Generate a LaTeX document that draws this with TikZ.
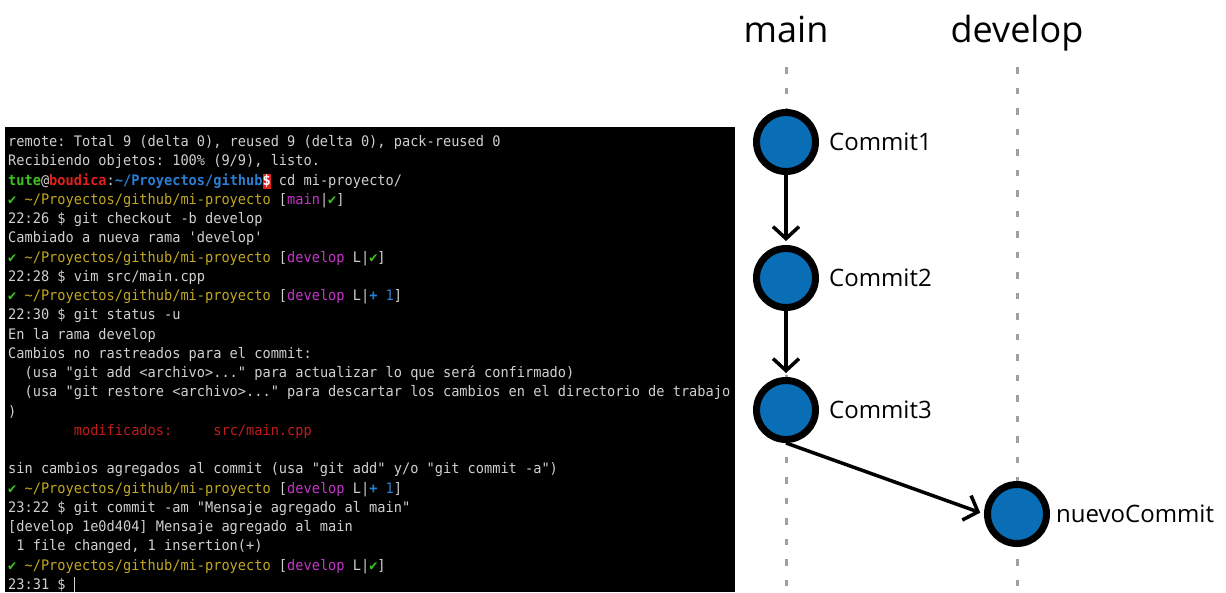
\documentclass[tikz,border=0pt]{standalone}
\usepackage{fontspec}
\setmainfont{Open Sans}
\setmonofont{DejaVu Sans Mono}[FakeStretch=0.94]
\usetikzlibrary{arrows.meta,positioning}

% terminal palette
\definecolor{tfg}{HTML}{D0D0D0}
\definecolor{tgreen}{HTML}{3EC21E}
\definecolor{tred}{HTML}{E0201C}
\definecolor{tdred}{HTML}{C41A1A}
\definecolor{tblue}{HTML}{2A7FD4}
\definecolor{tyellow}{HTML}{C2A81E}
\definecolor{tmag}{HTML}{C435C8}
% graph palette
\definecolor{commitfill}{HTML}{0A6EB7}
\definecolor{lanegray}{HTML}{A0A0A0}

% terminal helpers
\newcommand\tsp[1]{\hspace*{\dimexpr#1\fontcharwd\font`x\relax}}
\newcommand\ok{\textcolor{tgreen}{✔}}
\newcommand\tpath{\textcolor{tyellow}{\string~/Proyectos/github/mi-proyecto}}
\newcommand\dollarbox{{\fboxsep=0pt\colorbox{tred}{\rule[-3.5pt]{0pt}{15pt}\textcolor{white}{\textbf{\$}}}}}

\begin{document}
\begin{tikzpicture}[x=1pt,y=-1pt,
  term/.style={anchor=base west, inner sep=0pt, text=tfg,
    font=\ttfamily\fontsize{14.5}{19}\selectfont\frenchspacing},
  commit/.style={circle, draw=black, fill=commitfill, line width=7pt,
    inner sep=0pt, minimum size=59pt},
  clabel/.style={inner sep=0pt, font=\fontsize{24}{28}\selectfont},
  branch/.style={inner sep=0pt, anchor=base, font=\fontsize{36}{40}\selectfont},
  lane/.style={draw=lanegray, line width=3pt, dash pattern=on 6.5pt off 14pt},
  flow/.style={line width=3.5pt, -{Straight Barb[length=12pt,width=26pt]}, shorten >=4pt}]

\useasboundingbox (0,0) rectangle (1226,592);

% ---------- terminal ----------
\fill[black] (5,127) rectangle (735,592);

\node[term] (t1)  at (8,146.5)  {remote: Total 9 (delta 0), reused 9 (delta 0), pack-reused 0};
\node[term] (t2)  at (8,165.76) {Recibiendo objetos: 100\% (9/9), listo.};
\node[term] (t3)  at (8,185.02) {\textcolor{tgreen}{\textbf{tute}}@\textcolor{tred}{\textbf{boudica}}:\textcolor{tblue}{\textbf{\string~/Proyectos/github}}\dollarbox\ cd mi-proyecto/};
\node[term] (t4)  at (8,204.28) {\ok\ \tpath\ [\textcolor{tmag}{main}|\ok]};
\node[term] (t5)  at (8,223.54) {22:26 \$ git checkout -b develop};
\node[term] (t6)  at (8,242.8)  {Cambiado a nueva rama 'develop'};
\node[term] (t7)  at (8,262.06) {\ok\ \tpath\ [\textcolor{tmag}{develop} L|\ok]};
\node[term] (t8)  at (8,281.32) {22:28 \$ vim src/main.cpp};
\node[term] (t9)  at (8,300.58) {\ok\ \tpath\ [\textcolor{tmag}{develop} L|\textcolor{tblue}{\textbf{+}\ 1}]};
\node[term] (t10) at (8,319.84) {22:30 \$ git status -u};
\node[term] (t11) at (8,339.1)  {En la rama develop};
\node[term] (t12) at (8,358.36) {Cambios no rastreados para el commit:};
\node[term] (t13) at (8,377.62) {\tsp{2}(usa "git add <archivo>..." para actualizar lo que será confirmado)};
\node[term] (t14) at (8,396.88) {\tsp{2}(usa "git restore <archivo>..." para descartar los cambios en el directorio de trabajo};
\node[term] (t15) at (8,416.14) {)};
\node[term] (t16) at (8,435.4)  {\tsp{8}\textcolor{tdred}{modificados:\tsp{5}src/main.cpp}};
\node[term] (t18) at (8,473.92) {sin cambios agregados al commit (usa "git add" y/o "git commit -a")};
\node[term] (t19) at (8,493.18) {\ok\ \tpath\ [\textcolor{tmag}{develop} L|\textcolor{tblue}{\textbf{+}\ 1}]};
\node[term] (t20) at (8,512.44) {23:22 \$ git commit -am "Mensaje agregado al main"};
\node[term] (t21) at (8,531.7)  {[develop 1e0d404] Mensaje agregado al main};
\node[term] (t22) at (8,550.96) {\tsp{1}1 file changed, 1 insertion(+)};
\node[term] (t23) at (8,570.22) {\ok\ \tpath\ [\textcolor{tmag}{develop} L|\ok]};
\node[term] (t24) at (8,589.48) {23:31 \$ \rule[-3pt]{1.3pt}{15pt}};

% ---------- branch graph ----------
\coordinate (mtop) at (786,67);
\coordinate (mbot) at (786,592);
\coordinate (dtop) at (1017,67);
\coordinate (dbot) at (1017,592);
\draw[lane] (mtop) -- (mbot);
\draw[lane] (dtop) -- (dbot);

\node[branch] (bmain) at (786,42)  {main};
\node[branch] (bdev)  at (1017,42) {develop};

\node[commit] (c1) at (786,142) {};
\node[commit] (c2) at (786,278) {};
\node[commit] (c3) at (786,410) {};
\node[commit] (nc) at (1017,514) {};

\node[clabel, right=10pt of c1] (l1) {Commit1};
\node[clabel, right=10pt of c2] (l2) {Commit2};
\node[clabel, right=10pt of c3] (l3) {Commit3};
\node[clabel, right=6pt of nc]  (l4) {nuevoCommit};

\draw[flow] (c1.south) -- (c2.north);
\draw[flow] (c2.south) -- (c3.north);
\draw[flow] (c3.south) -- (nc.west);
\end{tikzpicture}
\end{document}
